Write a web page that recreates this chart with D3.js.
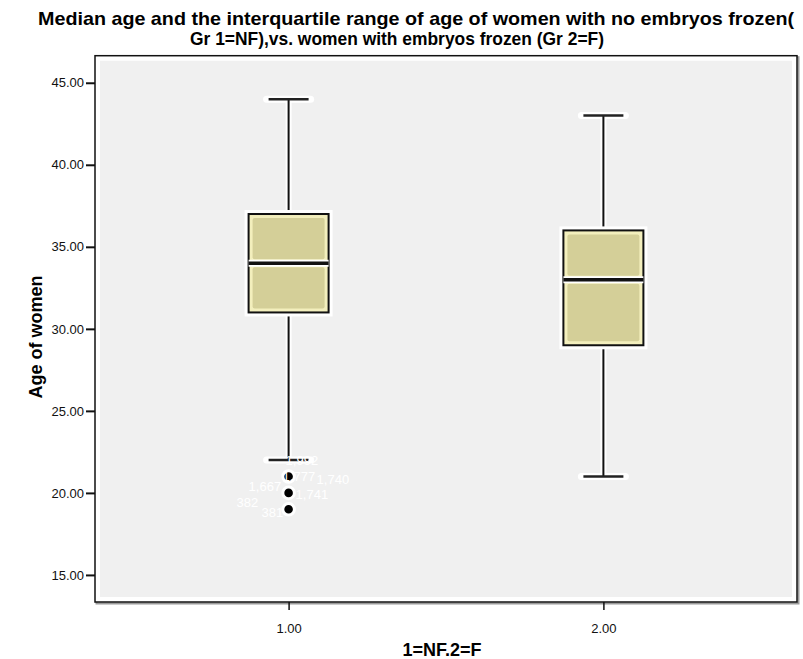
<!DOCTYPE html>
<html>
<head>
<meta charset="utf-8">
<script src="https://cdn.jsdelivr.net/npm/d3@7"></script>
<style>
body{margin:0;background:#fff;}
svg{display:block;font-family:"Liberation Sans",Arial,sans-serif;}
</style>
</head>
<body>
<div id="chart"></div>
<script>
// data
var groups = ["1.00", "2.00"];
var groupVals = [1, 2];
var q1 = [31, 29];
var medians = [34, 33];
var q3 = [37, 36];
var whiskLo = [22, 21];
var whiskHi = [44, 43];
var outlierGroup = [1, 1, 1];
var outlierAge = [21, 20, 19];
var yTicks = [15, 20, 25, 30, 35, 40, 45];
// case labels of the outliers (white, barely visible)
var caseLabels = ["1,992", "1,777", "1,740", "1,667", "1,741", "382", "381"];
var caseAges = [22, 21, 21, 20, 20, 19, 19];
var caseDx = [-3, -6, 28, -40, 7, -52, -27];   // pixel offsets from the dot
var caseDy = [5, 5, 8, -2, 6, -2, 8];

var W = 803, H = 659;
var margin = {top: 55.7, right: 6, bottom: 57, left: 95},
    width = W - margin.left - margin.right,
    height = H - margin.top - margin.bottom;

var svg = d3.select("#chart").append("svg")
    .attr("width", W).attr("height", H);

var x = d3.scalePoint()
    .domain(groupVals)
    .range([0, width])
    .padding(0.615);

var y = d3.scaleLinear()
    .domain([13.35, 46.65])
    .range([height, 0]);

// title
svg.append("text")
    .attr("x", 416).attr("y", 25)
    .attr("text-anchor", "middle")
    .style("font-family", "'Liberation Sans Narrow','Liberation Sans',Arial,sans-serif")
    .style("font-weight", "bold")
    .style("font-size", "19px")
    .attr("textLength", 756).attr("lengthAdjust", "spacingAndGlyphs")
    .text("Median age and the interquartile range of age of women with no embryos frozen(");
svg.append("text")
    .attr("x", 397).attr("y", 45)
    .attr("text-anchor", "middle")
    .style("font-family", "'Liberation Sans Narrow','Liberation Sans',Arial,sans-serif")
    .style("font-weight", "bold")
    .style("font-size", "19px")
    .attr("textLength", 414).attr("lengthAdjust", "spacingAndGlyphs")
    .text("Gr 1=NF),vs. women with embryos frozen (Gr 2=F)");

var g = svg.append("g")
    .attr("transform", "translate(" + margin.left + "," + margin.top + ")");

// frame shadow + frame
g.append("rect")
    .attr("x", 1.5).attr("y", 1.5)
    .attr("width", width).attr("height", height)
    .style("fill", "none").style("stroke", "#9a9a9a").style("stroke-width", "2px");
g.append("rect")
    .attr("width", width).attr("height", height)
    .style("fill", "#fff").style("stroke", "#111").style("stroke-width", "1.5px");
g.append("rect")
    .attr("x", 5).attr("y", 5)
    .attr("width", width - 10).attr("height", height - 10)
    .style("fill", "#f0f0f0");

// axes
var yAxis = g.append("g")
    .call(d3.axisLeft(y).tickValues(yTicks).tickFormat(d3.format(".2f")).tickSize(9).tickPadding(2));
yAxis.select(".domain").remove();
yAxis.selectAll(".tick line").style("stroke", "#111").style("stroke-width", "2px");
yAxis.selectAll(".tick text").style("font-size", "13px").style("fill", "#111")
    .style("font-family", "'Liberation Sans',Arial,sans-serif");

var xAxis = g.append("g")
    .attr("transform", "translate(0," + height + ")")
    .call(d3.axisBottom(x).tickFormat(function(d, i){ return groups[i]; }).tickSize(8).tickPadding(14));
xAxis.select(".domain").remove();
xAxis.selectAll(".tick line").style("stroke", "#111").style("stroke-width", "1.5px");
xAxis.selectAll(".tick text").style("font-size", "13px").style("fill", "#111")
    .style("font-family", "'Liberation Sans',Arial,sans-serif");

// axis titles
svg.append("text")
    .attr("transform", "translate(42," + (margin.top + y(29.5)) + ") rotate(-90)")
    .attr("text-anchor", "middle")
    .style("font-weight", "bold").style("font-size", "18px")
    .text("Age of women");
svg.append("text")
    .attr("x", 442).attr("y", 656)
    .attr("text-anchor", "middle")
    .style("font-weight", "bold").style("font-size", "18px")
    .text("1=NF.2=F");

var boxW = 80, capW = 40;

var boxes = g.selectAll(".box").data(groupVals).enter().append("g")
    .attr("class", "box");

function halo(sel, w){
    return sel.style("stroke", "#fff").style("stroke-width", w + "px");
}

// whiskers: white halo then black
boxes.each(function(d, i){
    var b = d3.select(this), cx = x(d);
    [[y(whiskLo[i]), y(q1[i])], [y(q3[i]), y(whiskHi[i])]].forEach(function(seg){
        halo(b.append("line").attr("x1", cx).attr("x2", cx).attr("y1", seg[0]).attr("y2", seg[1]), 6);
    });
    [whiskLo[i], whiskHi[i]].forEach(function(v){
        halo(b.append("line").attr("x1", cx - capW/2 - 2).attr("x2", cx + capW/2 + 2)
            .attr("y1", y(v)).attr("y2", y(v)), 7).style("stroke-linecap", "round");
    });
    [[y(whiskLo[i]), y(q1[i])], [y(q3[i]), y(whiskHi[i])]].forEach(function(seg){
        b.append("line").attr("x1", cx).attr("x2", cx).attr("y1", seg[0]).attr("y2", seg[1])
            .style("stroke", "#111").style("stroke-width", "2px");
    });
    [whiskLo[i], whiskHi[i]].forEach(function(v){
        b.append("line").attr("x1", cx - capW/2).attr("x2", cx + capW/2)
            .attr("y1", y(v)).attr("y2", y(v))
            .style("stroke", "#222").style("stroke-width", "2.5px");
    });

    // box
    b.append("rect")
        .attr("x", cx - boxW/2 - 2).attr("y", y(q3[i]) - 2)
        .attr("width", boxW + 4).attr("height", y(q1[i]) - y(q3[i]) + 4)
        .style("fill", "none").style("stroke", "#fff").style("stroke-width", "4px");
    b.append("rect")
        .attr("x", cx - boxW/2).attr("y", y(q3[i]))
        .attr("width", boxW).attr("height", y(q1[i]) - y(q3[i]))
        .style("fill", "#f3efbd").style("stroke", "#111").style("stroke-width", "2px");
    // inner darker area (soft edge look)
    [[q3[i], medians[i]], [medians[i], q1[i]]].forEach(function(p){
        b.append("rect")
            .attr("x", cx - boxW/2 + 4).attr("y", y(p[0]) + 4)
            .attr("width", boxW - 8).attr("height", y(p[1]) - y(p[0]) - 8)
            .attr("rx", 2)
            .style("fill", "#d4cf98");
    });
    // median
    halo(b.append("line").attr("x1", cx - boxW/2).attr("x2", cx + boxW/2)
        .attr("y1", y(medians[i])).attr("y2", y(medians[i])), 7);
    b.append("line").attr("x1", cx - boxW/2).attr("x2", cx + boxW/2)
        .attr("y1", y(medians[i])).attr("y2", y(medians[i]))
        .style("stroke", "#111").style("stroke-width", "3.5px");
});

// outliers
g.selectAll(".out").data(outlierAge).enter().append("circle")
    .attr("cx", function(d, i){ return x(outlierGroup[i]); })
    .attr("cy", function(d){ return y(d); })
    .attr("r", 5.8)
    .style("fill", "#000").style("stroke", "#fff").style("stroke-width", "3px");

// case labels
g.selectAll(".lab").data(caseLabels).enter().append("text")
    .attr("x", function(d, i){ return x(1) + caseDx[i]; })
    .attr("y", function(d, i){ return y(caseAges[i]) + caseDy[i]; })
    .style("fill", "#fff").style("font-size", "13px")
    .style("font-family", "'Liberation Sans',Arial,sans-serif")
    .text(function(d){ return d; });
</script>
</body>
</html>
